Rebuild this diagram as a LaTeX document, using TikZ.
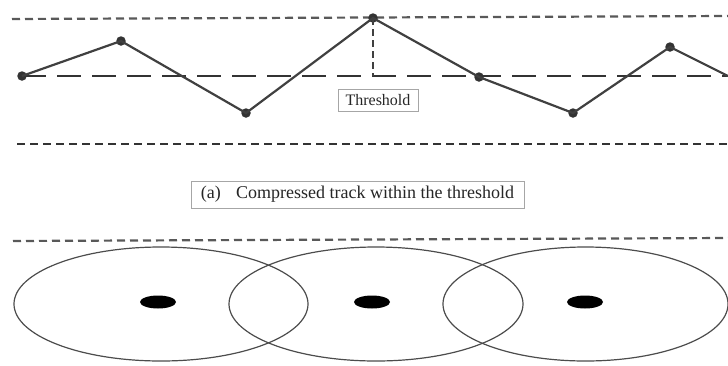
\documentclass[tikz,border=0pt]{standalone}
\usepackage{fontspec}
\setmainfont{Liberation Serif}
\usetikzlibrary{shapes.geometric}
\begin{document}
\begin{tikzpicture}[x=1pt,y=-1pt,
  trk/.style={line width=2.2pt,draw=black!75},
  pt/.style={circle,fill=black!80,inner sep=0pt,minimum size=9.5pt},
  shortdash/.style={line width=2.2pt,draw=black!65,dash pattern=on 8pt off 5pt},
  longdash/.style={line width=2.6pt,draw=black!80,dash pattern=on 24pt off 11pt},
  lbl/.style={draw=black!35,line width=0.7pt,fill=white,inner sep=3pt,text=black!85},
  ell/.style={draw=black!70,line width=1.2pt},
  blob/.style={ellipse,fill=black,inner sep=0pt,minimum width=36pt,minimum height=13pt}]
\useasboundingbox (0,0) rectangle (728,365);
% top band
\coordinate (t1) at (12,19); \coordinate (t2) at (728,16);
\draw[shortdash] (t1) -- (t2);
\coordinate (h1) at (22,76); \coordinate (h2) at (728,76);
\draw[longdash] (h1) -- (h2);
\coordinate (b1) at (17,144); \coordinate (b2) at (728,144);
\draw[shortdash,line width=2.6pt,draw=black!80] (b1) -- (b2);
% track points
\node[pt] (p1) at (22,76) {};
\node[pt] (p2) at (121,41) {};
\node[pt] (p3) at (246,113) {};
\node[pt] (p4) at (373,18) {};
\node[pt] (p5) at (479,77) {};
\node[pt] (p6) at (573,113) {};
\node[pt] (p7) at (670,47) {};
\coordinate (p8) at (728,76);
\draw[trk] (p1.center) -- (p2.center) -- (p3.center) -- (p4.center) -- (p5.center) -- (p6.center) -- (p7.center) -- (p8);
\coordinate (v1) at (373,76);
\draw[line width=2.2pt,draw=black!75,dash pattern=on 7pt off 4pt] (p4.center) -- (v1);
\node[lbl,font=\fontsize{16}{18}\selectfont,minimum width=80pt,minimum height=22pt] (thr) at (378,100) {Threshold};
\node[lbl,font=\fontsize{18}{20}\selectfont,minimum width=333pt,minimum height=27pt] (cap) at (357.5,194.5) {(a)\hspace{0.6em} Compressed track within the threshold};
% bottom band
\coordinate (d1) at (13,241); \coordinate (d2) at (728,238);
\draw[shortdash] (d1) -- (d2);
\draw[ell] (161,304) ellipse [x radius=147, y radius=57];
\draw[ell] (376,304) ellipse [x radius=147, y radius=57];
\draw[ell] (585.5,304) ellipse [x radius=142.5, y radius=57];
\node[blob] (c1) at (158,302) {};
\node[blob] (c2) at (372,302) {};
\node[blob] (c3) at (585,302) {};
\end{tikzpicture}
\end{document}
